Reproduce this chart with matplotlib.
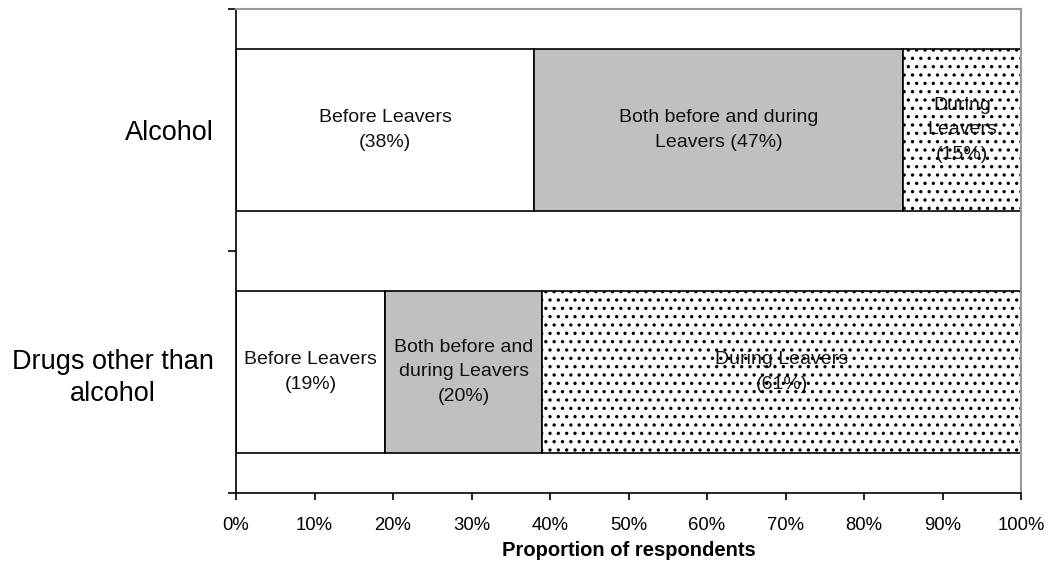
import matplotlib
matplotlib.use("Agg")
import matplotlib.pyplot as plt
import numpy as np

plt.rcParams['font.family'] = ['Liberation Sans', 'DejaVu Sans']
plt.rcParams['hatch.linewidth'] = 1.2

categories = ["Alcohol", "Drugs other than\nalcohol"]
segments = ["Before Leavers", "Both before and during Leavers", "During Leavers"]
before = [38, 19]
both = [47, 20]
during = [15, 61]

# text shown inside each segment, per category
seg_text = [
    ["Before Leavers\n(38%)", "Both before and during\nLeavers (47%)", "During\nLeavers\n(15%)"],
    ["Before Leavers\n(19%)", "Both before and\nduring Leavers\n(20%)", "During Leavers\n(61%)"],
]

fig = plt.figure(figsize=(10.52, 5.62), dpi=100)
ax = fig.add_axes([236 / 1052, 1 - 493 / 562, (1021 - 236) / 1052, (493 - 9) / 562])

y = np.arange(len(categories))
h = 0.67
left = np.zeros(len(categories))
styles = [dict(color="white"), dict(color="#c0c0c0"), dict(color="white", hatch="..")]
for vals, st in zip([before, both, during], styles):
    ax.barh(y, vals, h, left=left, edgecolor="black", linewidth=1.2, **st)
    left += np.array(vals)

left = np.zeros(len(categories))
for k, vals in enumerate([before, both, during]):
    for i, v in enumerate(vals):
        ax.text(left[i] + v / 2, y[i], seg_text[i][k], ha="center", va="center",
                fontsize=14, linespacing=1.55, color="#111111")
    left += np.array(vals)

ax.set_xlim(0, 100)
ax.set_ylim(1.5, -0.5)
ax.set_xticks(np.arange(0, 101, 10))
ax.set_xticklabels([f"{t}%" for t in range(0, 101, 10)], fontsize=13.3)
ax.set_yticks([-0.5, 0.5, 1.5])
ax.set_yticklabels([])
ax.set_yticks(y, minor=True)
ax.set_yticklabels(categories, minor=True, fontsize=19.5, multialignment="center",
                   linespacing=1.3)
ax.tick_params(axis="y", which="minor", length=0, pad=16)
ax.tick_params(axis="y", which="major", direction="out", length=6, width=1.2)
ax.tick_params(axis="x", direction="out", length=5, width=1.2, pad=12)

ax.set_xlabel("Proportion of respondents", fontsize=14.5, fontweight="bold", labelpad=5)

for s in ["left", "bottom"]:
    ax.spines[s].set_linewidth(1.2)
    ax.spines[s].set_color("black")
for s in ["top", "right"]:
    ax.spines[s].set_color("#999999")
    ax.spines[s].set_linewidth(1.5)

fig.savefig("out.png", dpi=100)
